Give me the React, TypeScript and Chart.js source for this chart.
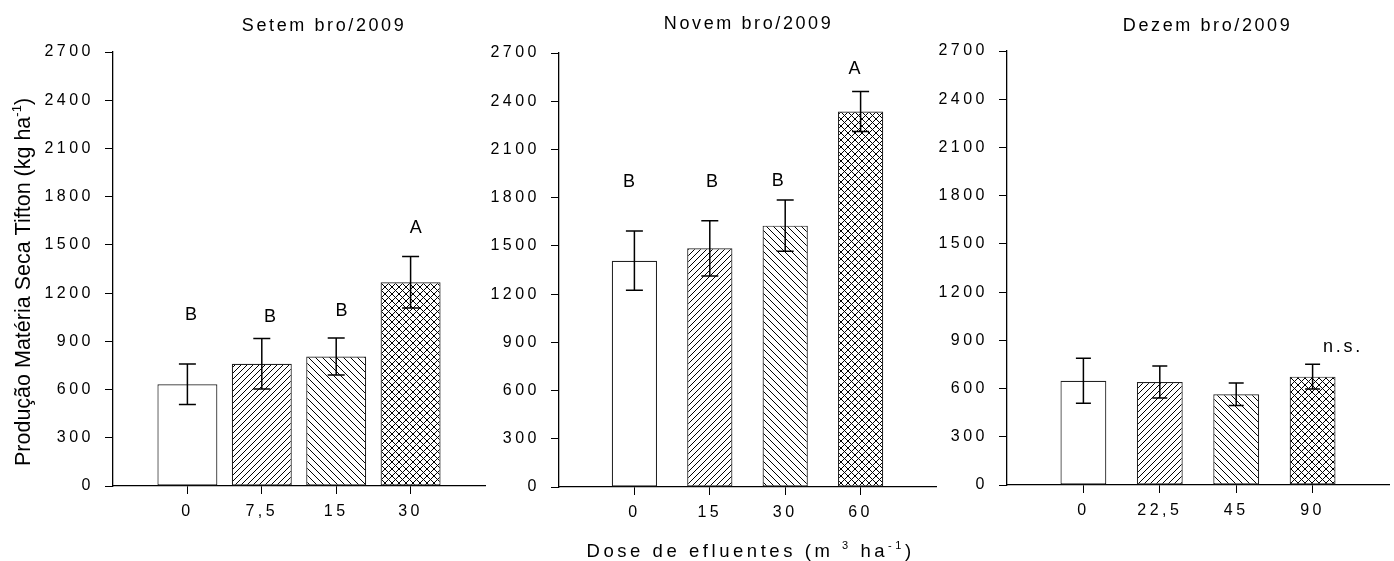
import React, { useEffect, useRef } from "react";
import { Chart, registerables } from "chart.js";
Chart.register(...registerables);

const FONT = "'Liberation Sans', Arial, Helvetica, sans-serif";

// ---------- data ----------
const setLabels = ["0", "7,5", "15", "30"];
const setValues = [633, 761, 805, 1268];
const setErrors = [126, 157, 115, 160];
const setLetters = ["B", "B", "B", "A"];
const setLetterY = [1065, 1054, 1090, 1606];
const setLetterDx = [0.05, 0.11, 0.07, 0.07];

const novLabels = ["0", "15", "30", "60"];
const novValues = [1408, 1485, 1626, 2336];
const novErrors = [184, 172, 160, 125];
const novLetters = ["B", "B", "B", "A"];
const novLetterY = [1900, 1900, 1905, 2602];
const novLetterDx = [-0.07, 0.03, -0.1, -0.08];

const dezLabels = ["0", "22,5", "45", "90"];
const dezValues = [649, 641, 564, 674];
const dezErrors = [140, 99, 70, 77];
const dezLetters = ["", "", "", "n.s."];
const dezLetterY = [0, 0, 0, 857];
const dezLetterDx = [0, 0, 0, 0.38];

const Y_MIN = 0;
const Y_MAX = 2700;
const Y_STEP = 300;
const X_MIN = -1;
const X_MAX = 4;

const patternKinds = ["none", "fwd", "back", "cross"];

type Run = { t: string; sup?: boolean };

const yTitleRuns: Run[] = [
  { t: "Produção Matéria Seca Tifton (kg ha" },
  { t: "-1", sup: true },
  { t: ")" },
];
const xTitleRuns: Run[] = [
  { t: "Dose de efluentes (m " },
  { t: "3", sup: true },
  { t: " ha" },
  { t: "-1", sup: true },
  { t: ")" },
];

// ---------- layout (not data) ----------
const H = 561;
const PANELS = [
  {
    left: 0, width: 490, area: { l: 113, r: 485, t: 52, b: 486 }, barPct: 0.806, capW: 17,
    title: "Setem bro/2009", titleX: 321.5, titleY: 30.7,
    labels: setLabels, values: setValues, errors: setErrors,
    letters: setLetters, letterY: setLetterY, letterDx: setLetterDx,
    yTitle: { x: 30, y: 282 } as null | { x: number; y: number }, xTitle: null as null | { x: number; y: number },
  },
  {
    left: 470, width: 470, area: { l: 89, r: 466, t: 53, b: 487 }, barPct: 0.6, capW: 17,
    title: "Novem bro/2009", titleX: 276, titleY: 28.5,
    labels: novLabels, values: novValues, errors: novErrors,
    letters: novLetters, letterY: novLetterY, letterDx: novLetterDx,
    yTitle: null as null | { x: number; y: number }, xTitle: { x: 277, y: 556.5 } as null | { x: number; y: number },
  },
  {
    left: 920, width: 474, area: { l: 87, r: 469, t: 51, b: 485 }, barPct: 0.6, capW: 15,
    title: "Dezem bro/2009", titleX: 285, titleY: 30.7,
    labels: dezLabels, values: dezValues, errors: dezErrors,
    letters: dezLetters, letterY: dezLetterY, letterDx: dezLetterDx,
    yTitle: null as null | { x: number; y: number }, xTitle: null as null | { x: number; y: number },
  },
];

function makePattern(kind: string): CanvasPattern | string {
  if (kind === "none") return "#ffffff";
  const t = kind === "fwd" ? 6 : 7;
  const c = document.createElement("canvas");
  c.width = t;
  c.height = t;
  const g = c.getContext("2d")!;
  g.fillStyle = "#ffffff";
  g.fillRect(0, 0, t, t);
  g.strokeStyle = "#000";
  g.lineWidth = 1;
  g.beginPath();
  if (kind === "fwd" || kind === "cross") {
    g.moveTo(0, t); g.lineTo(t, 0);
    g.moveTo(-1, 1); g.lineTo(1, -1);
    g.moveTo(t - 1, t + 1); g.lineTo(t + 1, t - 1);
  }
  if (kind === "back" || kind === "cross") {
    g.moveTo(0, 0); g.lineTo(t, t);
    g.moveTo(-1, t - 1); g.lineTo(1, t + 1);
    g.moveTo(t - 1, -1); g.lineTo(t + 1, 1);
  }
  g.stroke();
  return g.createPattern(c, "repeat")!;
}

function drawRuns(
  ctx: CanvasRenderingContext2D, runs: Run[], x: number, y: number,
  size: number, spacing: number, rotate = false
) {
  ctx.save();
  ctx.fillStyle = "#000";
  ctx.textBaseline = "alphabetic";
  ctx.textAlign = "left";
  (ctx as any).letterSpacing = spacing + "px";
  const fontFor = (r: Run) => `${r.sup ? Math.round(size * 0.62) : size}px ${FONT}`;
  const widths = runs.map((r) => {
    ctx.font = fontFor(r);
    return ctx.measureText(r.t).width;
  });
  const total = widths.reduce((a, b) => a + b, 0) - spacing;
  ctx.translate(x, y);
  if (rotate) ctx.rotate(-Math.PI / 2);
  let cx = -total / 2;
  runs.forEach((r, i) => {
    ctx.font = fontFor(r);
    ctx.fillText(r.t, cx, r.sup ? -size * 0.42 : 0);
    cx += widths[i];
  });
  ctx.restore();
}

const TICK_SPACING = "3.5px";

const spacingPlugin = {
  id: "spacing",
  beforeUpdate(chart: any) { chart.ctx.letterSpacing = TICK_SPACING; },
  beforeLayout(chart: any) { chart.ctx.letterSpacing = TICK_SPACING; },
  beforeDraw(chart: any) { chart.ctx.letterSpacing = TICK_SPACING; },
};

function Panel({ p }: { p: (typeof PANELS)[number] }) {
  const ref = useRef<HTMLCanvasElement | null>(null);
  useEffect(() => {
    const canvas = ref.current!;
    const patterns = patternKinds.map(makePattern);

    const overlay = {
      id: "overlay",
      afterDatasetsDraw(chart: any) {
        const ctx: CanvasRenderingContext2D = chart.ctx;
        const xs = chart.scales.x;
        const ys = chart.scales.y;
        // error bars
        ctx.save();
        ctx.strokeStyle = "#000";
        ctx.lineWidth = 1.5;
        p.values.forEach((v, i) => {
          const x = xs.getPixelForValue(i);
          const yt = ys.getPixelForValue(v + p.errors[i]);
          const yb = ys.getPixelForValue(v - p.errors[i]);
          ctx.beginPath();
          ctx.moveTo(x, yt); ctx.lineTo(x, yb);
          ctx.moveTo(x - p.capW / 2, yt); ctx.lineTo(x + p.capW / 2, yt);
          ctx.moveTo(x - p.capW / 2, yb); ctx.lineTo(x + p.capW / 2, yb);
          ctx.stroke();
        });
        ctx.restore();
        // significance letters
        ctx.save();
        ctx.fillStyle = "#000";
        ctx.textAlign = "center";
        ctx.textBaseline = "middle";
        ctx.font = `18px ${FONT}`;
        (ctx as any).letterSpacing = "2.7px";
        p.letters.forEach((s, i) => {
          if (!s) return;
          const x = xs.getPixelForValue(i + p.letterDx[i]) + 1.35;
          const y = ys.getPixelForValue(p.letterY[i]);
          ctx.fillText(s, x, y);
        });
        ctx.restore();
      },
      afterDraw(chart: any) {
        const ctx: CanvasRenderingContext2D = chart.ctx;
        drawRuns(ctx, [{ t: p.title }], p.titleX + 1.3, p.titleY, 18, 2.6);
        if (p.yTitle) drawRuns(ctx, yTitleRuns, p.yTitle.x, p.yTitle.y, 21.5, 0, true);
        if (p.xTitle) drawRuns(ctx, xTitleRuns, p.xTitle.x + 1.8, p.xTitle.y, 18.5, 3.55);
      },
    };

    const tickFont = { family: FONT, size: 16 };
    const chart = new Chart(canvas, {
      type: "bar",
      data: {
        datasets: [
          {
            data: p.values.map((v, i) => ({ x: i, y: v })) as any,
            backgroundColor: patterns as any,
            borderColor: "#222",
            borderWidth: 1.2,
            borderSkipped: false,
            categoryPercentage: 1,
            barPercentage: p.barPct,
          },
        ],
      },
      options: {
        responsive: false,
        maintainAspectRatio: false,
        animation: false,
        layout: { padding: { left: 0, right: p.width - p.area.r, top: p.area.t, bottom: 0 } },
        plugins: { legend: { display: false }, tooltip: { enabled: false }, title: { display: false } },
        scales: {
          x: {
            type: "linear",
            min: X_MIN,
            max: X_MAX,
            offset: false,
            afterBuildTicks: (axis: any) => {
              axis.ticks = axis.ticks.filter((t: any) => t.value >= 0 && t.value < p.labels.length);
            },
            afterFit: (s: any) => { s.height = H - p.area.b; },
            ticks: {
              stepSize: 1,
              autoSkip: false,
              maxRotation: 0,
              color: "#000",
              font: tickFont,
              padding: 8,
              callback: (v: any) => p.labels[Math.round(Number(v))] ?? "",
            },
            grid: { display: true, offset: false, drawOnChartArea: false, drawTicks: true, tickLength: 8, color: "#000", lineWidth: 1 },
            border: { display: true, color: "#000", width: 1.3 },
          },
          y: {
            min: Y_MIN,
            max: Y_MAX,
            afterFit: (s: any) => { s.width = p.area.l; },
            ticks: { stepSize: Y_STEP, color: "#000", font: tickFont, padding: 11, callback: (v: any) => String(v) },
            grid: { display: true, drawOnChartArea: false, drawTicks: true, tickLength: 8, color: "#000", lineWidth: 1 },
            border: { display: true, color: "#000", width: 1.3 },
          },
        },
      } as any,
      plugins: [spacingPlugin, overlay],
    });
    return () => chart.destroy();
  }, [p]);
  return (
    <canvas
      ref={ref}
      width={p.width}
      height={H}
      style={{ position: "absolute", left: p.left, top: 0, width: p.width, height: H, display: "block" }}
    />
  );
}

export default function App() {
  return (
    <div style={{ position: "absolute", left: 0, top: 0, width: 1394, height: H, background: "#fff" }}>
      {PANELS.map((p, i) => (
        <Panel key={i} p={p} />
      ))}
    </div>
  );
}
